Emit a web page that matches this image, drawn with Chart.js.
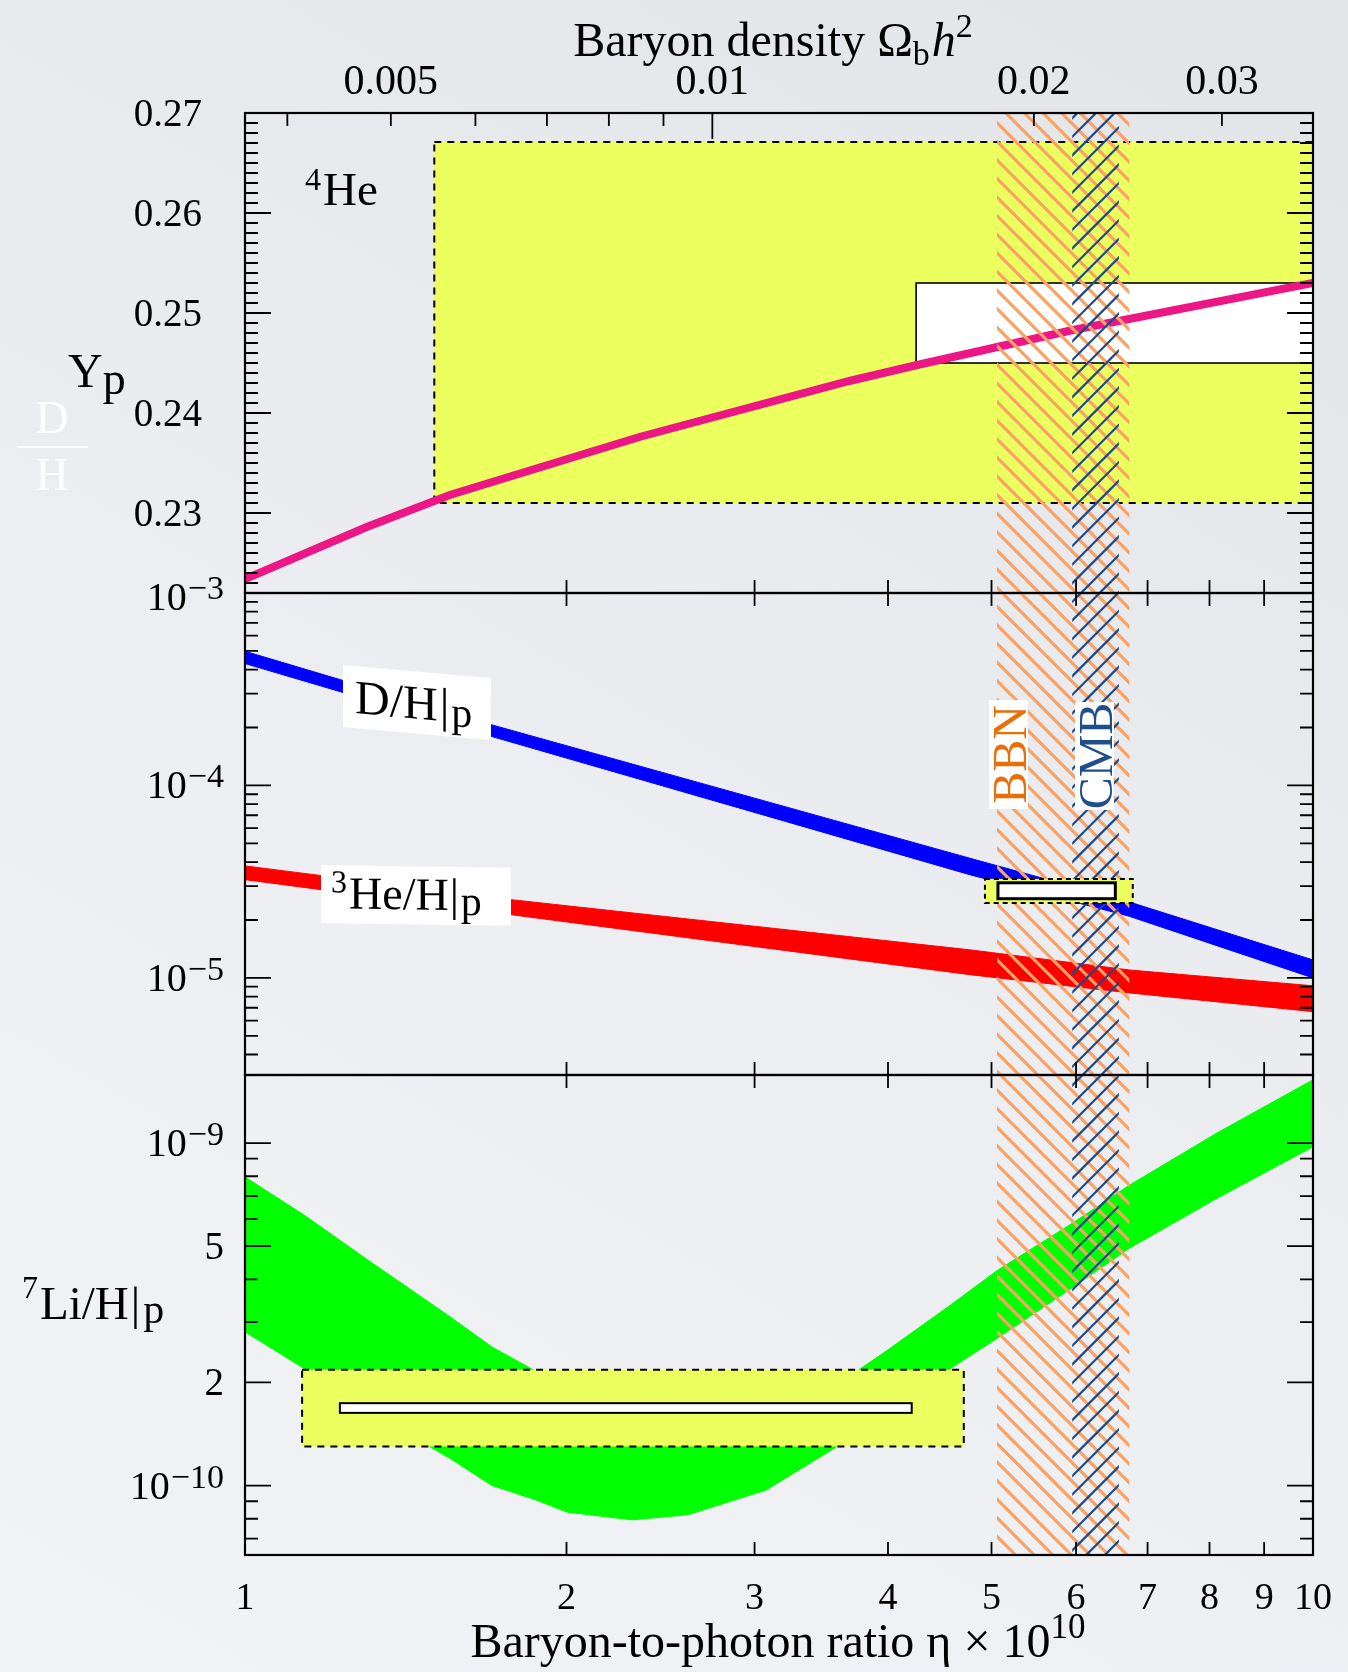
<!DOCTYPE html>
<html>
<head>
<meta charset="utf-8">
<title>BBN abundances</title>
<script src="https://cdn.jsdelivr.net/npm/chart.js@4.4.1/dist/chart.umd.min.js"></script>
<style>
html, body { margin: 0; padding: 0; }
body {
  width: 1348px; height: 1672px; overflow: hidden; position: relative;
  background: linear-gradient(30deg, #f2f3f5 0%, #eceef1 45%, #e3e4e8 100%);
}
canvas { position: absolute; left: 0; top: 0; }
</style>
</head>
<body>
<canvas id="heChart" width="1348" height="1672"></canvas>
<canvas id="dhChart" width="1348" height="1672"></canvas>
<canvas id="liChart" width="1348" height="1672"></canvas>
<script>
// ---- values ----
const etaPerOmega = 273.9;   // eta x 10^10 = 273.9 * Omega_b h^2
const etaTicks = [1, 2, 3, 4, 5, 6, 7, 8, 9, 10];
const omegaTicks = [0.004, 0.005, 0.006, 0.007, 0.008, 0.009, 0.01, 0.02, 0.03];
const omegaLabels = [0.005, 0.01, 0.02, 0.03];

// 4He mass fraction
const ypTicks = [0.23, 0.24, 0.25, 0.26, 0.27];
const ypEta = [1, 1.3, 1.555, 2.34, 3.68, 4.26, 5.96, 10];
const ypValues = [0.2234, 0.2286, 0.2318, 0.2376, 0.2432, 0.2448, 0.2483, 0.2530];
const ypBoxEta = [1.504, 10];
const ypBoxRange = [0.2310, 0.2671];
const ypWhiteEta = [4.25, 10];
const ypWhiteRange = [0.2450, 0.2530];

// D/H and 3He/H
const dhEta = [1, 1.7, 4.77, 6.73, 10];
const dhUpper = [4.98e-4, 2.07e-4, 4.19e-5, 2.48e-5, 1.24e-5];
const dhLower = [4.30e-4, 1.80e-4, 3.44e-5, 2.09e-5, 1.00e-5];
const he3Eta = [1, 1.776, 4.77, 6.73, 10];
const he3Upper = [3.82e-5, 2.55e-5, 1.40e-5, 1.10e-5, 9.1e-6];
const he3Lower = [3.24e-5, 2.13e-5, 1.04e-5, 8.36e-6, 6.68e-6];
const dhBoxEta = [4.93, 6.78];
const dhBoxRange = [2.45e-5, 3.27e-5];
const dhWhiteEta = [5.07, 6.53];
const dhWhiteRange = [2.58e-5, 3.12e-5];
const dhLabelTicks = [1e-3, 1e-4, 1e-5];

// 7Li/H
const liEta = [1, 1.135, 1.3, 1.556, 1.703, 1.865, 2.004, 2.305, 2.6, 3.075, 3.57, 3.75, 4.0, 4.58, 5.07, 5.95, 6.73, 8.13, 10];
const liUpper = [7.96e-10, 6.17e-10, 4.58e-10, 3.11e-10, 2.54e-10, 2.17e-10, 1.95e-10, 1.70e-10, 1.58e-10, 1.66e-10, 2.00e-10, 2.17e-10, 2.49e-10, 3.37e-10, 4.26e-10, 5.83e-10, 7.53e-10, 1.07e-9, 1.53e-9];
const liLower = [2.81e-10, 2.20e-10, 1.66e-10, 1.20e-10, 1.00e-10, 9.12e-11, 8.36e-11, 7.94e-11, 8.22e-11, 9.70e-11, 1.29e-10, 1.46e-10, 1.74e-10, 2.20e-10, 2.70e-10, 3.78e-10, 4.93e-10, 6.90e-10, 9.75e-10];
const liBoxEta = [1.131, 4.71];
const liBoxRange = [1.30e-10, 2.18e-10];
const liWhiteEta = [1.227, 4.21];
const liWhiteRange = [1.63e-10, 1.74e-10];
const liLabelTicks = [1e-9, 5e-10, 2e-10, 1e-10];

// eta ranges of the BBN and CMB bands
const bbnBand = [5.06, 6.73];
const cmbBand = [5.95, 6.58];

// ---- layout and styles ----
const W = 1348, H = 1672;
const plotLeft = 245, plotRight = 1313;
const panelTop = [113, 593, 1075];
const panelBottom = [593, 1075, 1555];
const serif = '"Liberation Serif", "Times New Roman", Times, serif';
const yellow = '#ebff5e';
const pink = '#ec1685';

function font(px, italic) {
    return (italic ? 'italic ' : '') + px + 'px ' + serif;
}

// row of text pieces with their own sizes / vertical shifts
function drawRuns(ctx, runs, x, baseline, align, color) {
    let total = 0;
    runs.forEach((r) => {
        ctx.font = font(r.px, r.it);
        r.w = ctx.measureText(r.t).width + (r.gap || 0);
        total += r.w;
    });
    if (align === 'center') x -= total / 2;
    if (align === 'right') x -= total;
    ctx.fillStyle = color || '#000';
    ctx.textAlign = 'left';
    ctx.textBaseline = 'alphabetic';
    runs.forEach((r) => {
        ctx.font = font(r.px, r.it);
        ctx.fillText(r.t, x + (r.gap || 0), baseline + (r.dy || 0));
        x += r.w;
    });
}

function logLabel(ctx, value, xRight, yMid) {
    const e = Math.floor(Math.log10(value) + 1e-9);
    const mant = Math.round(value / Math.pow(10, e));
    if (mant === 1) {
        drawRuns(ctx, [{t: '10', px: 40}, {t: '\u2212' + Math.abs(e), px: 34, dy: -11, gap: 1}], xRight, yMid + 13, 'right');
    } else {
        drawRuns(ctx, [{t: String(mant), px: 39}], xRight, yMid + 13, 'right');
    }
}

function logTicks(min, max, longOnes) {
    const minor = [], major = [];
    for (let e = Math.floor(Math.log10(min)); e <= Math.ceil(Math.log10(max)); e++) {
        for (let k = 1; k < 10; k++) {
            const v = k * Math.pow(10, e);
            if (v <= min * 1.001 || v >= max * 0.999) continue;
            (k === 1 || longOnes.includes(k) ? major : minor).push(v);
        }
    }
    return {minor, major};
}

function frameAndTicks(chart, ticks, top, bottom) {
    const ctx = chart.ctx, a = chart.chartArea, xs = chart.scales.x, ys = chart.scales.y;
    ctx.save();
    ctx.strokeStyle = '#000';
    ctx.lineWidth = 1.8;
    ctx.beginPath();
    const side = (v, len) => {
        const y = ys.getPixelForValue(v);
        ctx.moveTo(a.left, y); ctx.lineTo(a.left + len, y);
        ctx.moveTo(a.right, y); ctx.lineTo(a.right - len, y);
    };
    ticks.minor.forEach((v) => side(v, 13));
    ticks.major.forEach((v) => side(v, 26));
    etaTicks.slice(1, -1).forEach((v) => {
        const x = xs.getPixelForValue(v);
        if (bottom) { ctx.moveTo(x, a.bottom); ctx.lineTo(x, a.bottom - 13); }
        if (top) { ctx.moveTo(x, a.top); ctx.lineTo(x, a.top + 13); }
    });
    ctx.stroke();
    ctx.lineWidth = 2.2;
    ctx.strokeRect(a.left, a.top, a.right - a.left, a.bottom - a.top);
    ctx.restore();
}

// diagonal hatching of an eta band, lines in page coordinates so panels join up
function hatch(ctx, area, xs, band, color, lw, dir) {
    const x0 = xs.getPixelForValue(band[0]), x1 = xs.getPixelForValue(band[1]);
    const step = 18.6;
    ctx.save();
    ctx.beginPath();
    ctx.rect(x0, area.top, x1 - x0, area.bottom - area.top);
    ctx.clip();
    ctx.strokeStyle = color;
    ctx.lineWidth = lw;
    ctx.beginPath();
    if (dir > 0) {
        const lo = area.top - x1 - 20, hi = area.bottom - x0 + 20;
        for (let c = Math.floor(lo / step) * step; c <= hi; c += step) {
            ctx.moveTo(x0 - 10, x0 - 10 + c);
            ctx.lineTo(x1 + 10, x1 + 10 + c);
        }
    } else {
        const lo = area.top + x0 - 20, hi = area.bottom + x1 + 20;
        for (let c = Math.floor(lo / step) * step; c <= hi; c += step) {
            ctx.moveTo(x0 - 10, c - x0 + 10);
            ctx.lineTo(x1 + 10, c - x1 - 10);
        }
    }
    ctx.stroke();
    ctx.restore();
}

function drawBands(chart) {
    hatch(chart.ctx, chart.chartArea, chart.scales.x, bbnBand, '#f9a263', 3.2, 1);
    hatch(chart.ctx, chart.chartArea, chart.scales.x, cmbBand, '#1a4a8c', 2.2, -1);
}

function boxPx(chart, xr, yr) {
    const xs = chart.scales.x, ys = chart.scales.y;
    const x0 = xs.getPixelForValue(xr[0]), x1 = xs.getPixelForValue(xr[1]);
    const y0 = ys.getPixelForValue(yr[1]), y1 = ys.getPixelForValue(yr[0]);
    return {x: x0, y: y0, w: x1 - x0, h: y1 - y0};
}

function obsBox(ctx, b, dash) {
    ctx.save();
    ctx.fillStyle = yellow;
    ctx.fillRect(b.x, b.y, b.w, b.h);
    ctx.setLineDash(dash);
    ctx.lineWidth = 2;
    ctx.strokeStyle = '#000';
    ctx.strokeRect(b.x, b.y, b.w, b.h);
    ctx.restore();
}

function whiteBox(ctx, b, lw) {
    ctx.save();
    ctx.fillStyle = '#fff';
    ctx.fillRect(b.x, b.y, b.w, b.h);
    ctx.lineWidth = lw;
    ctx.strokeStyle = '#000';
    ctx.strokeRect(b.x, b.y, b.w, b.h);
    ctx.restore();
}

function shearLabel(ctx, x, y, w, h, k, runs, tx, tb) {
    ctx.save();
    ctx.translate(x, y);
    ctx.transform(1, k, 0, 1, 0, 0);
    ctx.fillStyle = '#fff';
    ctx.fillRect(0, 0, w, h);
    drawRuns(ctx, runs, tx, tb, 'left');
    ctx.restore();
}

function vLabel(ctx, bx, by, bw, bh, text, color) {
    ctx.save();
    ctx.fillStyle = '#fff';
    ctx.fillRect(bx, by, bw, bh);
    ctx.translate(bx + bw - 2, by + bh / 2);
    ctx.rotate(-Math.PI / 2);
    ctx.font = font(48);
    ctx.textAlign = 'center';
    ctx.textBaseline = 'alphabetic';
    ctx.fillStyle = color;
    ctx.fillText(text, 0, 0);
    ctx.restore();
}

function pts(xs, ys) {
    return xs.map((x, i) => ({x: x, y: ys[i]}));
}

function band(xs, up, lo, color) {
    return [
        {data: pts(xs, up), borderColor: color, borderWidth: 1, pointRadius: 0, fill: false, clip: 0},
        {data: pts(xs, lo), borderColor: color, borderWidth: 1, backgroundColor: color, pointRadius: 0, fill: '-1', clip: 0}
    ];
}

function panelOptions(i, yScale, extra) {
    return {
        responsive: false,
        maintainAspectRatio: false,
        animation: false,
        events: [],
        devicePixelRatio: 1,
        layout: {
            autoPadding: false,
            padding: {left: plotLeft, right: W - plotRight, top: panelTop[i], bottom: H - panelBottom[i]}
        },
        elements: {line: {tension: 0}},
        plugins: {legend: {display: false}, tooltip: {enabled: false}},
        scales: Object.assign({
            x: {type: 'logarithmic', min: 1, max: 10, display: false},
            y: yScale
        }, extra || {})
    };
}

// ---- top panel: 4He ----
const ypMinor = [], ypMajor = [];
for (let i = 223; i < 270; i++) {
    (i % 10 === 0 ? ypMajor : ypMinor).push(i / 1000);
}

const hePlugin = {
    id: 'hePanel',
    beforeDatasetsDraw(chart) {
        const ctx = chart.ctx;
        obsBox(ctx, boxPx(chart, ypBoxEta, ypBoxRange), [7, 6]);
        whiteBox(ctx, boxPx(chart, ypWhiteEta, ypWhiteRange), 1.6);
    },
    afterDatasetsDraw(chart) {
        drawBands(chart);
    },
    afterDraw(chart) {
        const ctx = chart.ctx, a = chart.chartArea, ys = chart.scales.y, x2 = chart.scales.x2;
        frameAndTicks(chart, {minor: ypMinor, major: ypMajor}, false, true);
        // Omega_b h^2 ticks along the top
        ctx.save();
        ctx.strokeStyle = '#000';
        ctx.lineWidth = 1.8;
        ctx.beginPath();
        omegaTicks.forEach((v) => {
            const x = x2.getPixelForValue(v);
            ctx.moveTo(x, a.top);
            ctx.lineTo(x, a.top + (v === 0.01 ? 26 : 13));
        });
        ctx.stroke();
        ctx.restore();
        omegaLabels.forEach((v) => {
            drawRuns(ctx, [{t: String(v), px: 42}], x2.getPixelForValue(v), 94, 'center');
        });
        ypTicks.forEach((v) => {
            drawRuns(ctx, [{t: v.toFixed(2), px: 39}], 202, ys.getPixelForValue(v) + 13, 'right');
        });
        drawRuns(ctx, [{t: 'Baryon density \u03a9', px: 48}, {t: 'b', px: 34, dy: 9},
            {t: 'h', px: 48, it: true, gap: 2}, {t: '2', px: 34, dy: -19}], 773, 56, 'center');
        drawRuns(ctx, [{t: 'Y', px: 48}, {t: 'p', px: 46, dy: 7}], 68, 387, 'left');
        drawRuns(ctx, [{t: '4', px: 32, dy: -15}, {t: 'He', px: 47, gap: 2}], 305, 205, 'left');
        // faint white D/H in the margin
        drawRuns(ctx, [{t: 'D', px: 46}], 52, 433, 'center', '#ffffff');
        drawRuns(ctx, [{t: 'H', px: 46}], 52, 490, 'center', '#ffffff');
        ctx.save();
        ctx.strokeStyle = '#ffffff';
        ctx.lineWidth = 2;
        ctx.beginPath();
        ctx.moveTo(17, 447);
        ctx.lineTo(88, 447);
        ctx.stroke();
        ctx.restore();
    }
};

new Chart(document.getElementById('heChart'), {
    type: 'line',
    data: {
        datasets: [{
            data: pts(ypEta, ypValues), borderColor: pink, borderWidth: 8,
            borderCapStyle: 'butt', pointRadius: 0, fill: false, clip: 0
        }]
    },
    options: panelOptions(0, {type: 'linear', min: 0.222, max: 0.27, display: false}, {
        x2: {type: 'logarithmic', position: 'top', min: 1 / etaPerOmega, max: 10 / etaPerOmega, display: false}
    }),
    plugins: [hePlugin]
});

// ---- middle panel: D/H and 3He/H ----
const dhMin = 3.13e-6, dhMax = 1e-3;
const dhTicks = logTicks(dhMin, dhMax, []);

const dhPlugin = {
    id: 'dhPanel',
    afterDatasetsDraw(chart) {
        const ctx = chart.ctx;
        drawBands(chart);
        obsBox(ctx, boxPx(chart, dhBoxEta, dhBoxRange), [5, 4]);
        whiteBox(ctx, boxPx(chart, dhWhiteEta, dhWhiteRange), 3);
        vLabel(ctx, 989, 700, 39, 109, 'BBN', '#e6700c');
        vLabel(ctx, 1075, 702, 39, 108, 'CMB', '#1f4f8a');
        shearLabel(ctx, 343, 665, 148, 62, 0.09,
            [{t: 'D/H', px: 48}, {t: '|', px: 48, gap: 2}, {t: 'p', px: 42, dy: 4, gap: 2}], 12, 47);
        shearLabel(ctx, 321, 865, 190, 58, 0.015,
            [{t: '3', px: 32, dy: -16}, {t: 'He/H', px: 46, gap: 2}, {t: '|', px: 46, gap: 1}, {t: 'p', px: 42, dy: 5, gap: 2}], 10, 43);
    },
    afterDraw(chart) {
        const ctx = chart.ctx, a = chart.chartArea, ys = chart.scales.y;
        frameAndTicks(chart, dhTicks, true, true);
        dhLabelTicks.forEach((v) => {
            logLabel(ctx, v, 224, Math.max(ys.getPixelForValue(v), a.top + 4));
        });
    }
};

new Chart(document.getElementById('dhChart'), {
    type: 'line',
    data: {datasets: band(dhEta, dhUpper, dhLower, '#0000ff').concat(band(he3Eta, he3Upper, he3Lower, '#ff0000'))},
    options: panelOptions(1, {type: 'logarithmic', min: dhMin, max: dhMax, display: false}),
    plugins: [dhPlugin]
});

// ---- bottom panel: 7Li/H ----
const liMin = 6.27e-11, liMax = 1.58e-9;
const liTicks = logTicks(liMin, liMax, [2, 5]);

const liPlugin = {
    id: 'liPanel',
    afterDatasetsDraw(chart) {
        const ctx = chart.ctx;
        obsBox(ctx, boxPx(chart, liBoxEta, liBoxRange), [7, 6]);
        whiteBox(ctx, boxPx(chart, liWhiteEta, liWhiteRange), 2);
        drawBands(chart);
    },
    afterDraw(chart) {
        const ctx = chart.ctx, a = chart.chartArea, xs = chart.scales.x, ys = chart.scales.y;
        frameAndTicks(chart, liTicks, true, true);
        liLabelTicks.forEach((v) => logLabel(ctx, v, 224, ys.getPixelForValue(v)));
        etaTicks.forEach((v) => {
            drawRuns(ctx, [{t: String(v), px: 38}], xs.getPixelForValue(v), 1609, 'center');
        });
        drawRuns(ctx, [{t: 'Baryon-to-photon ratio \u03b7 \u00d7 10', px: 48}, {t: '10', px: 35, dy: -19}], 778, 1657, 'center');
        drawRuns(ctx, [{t: '7', px: 32, dy: -21}, {t: 'Li/H', px: 47, gap: 2}, {t: '|', px: 47, gap: 2},
            {t: 'p', px: 42, dy: 4, gap: 3}], 22, 1319, 'left');
    }
};

new Chart(document.getElementById('liChart'), {
    type: 'line',
    data: {datasets: band(liEta, liUpper, liLower, '#00ff00')},
    options: panelOptions(2, {type: 'logarithmic', min: liMin, max: liMax, display: false}),
    plugins: [liPlugin]
});
</script>
</body>
</html>
